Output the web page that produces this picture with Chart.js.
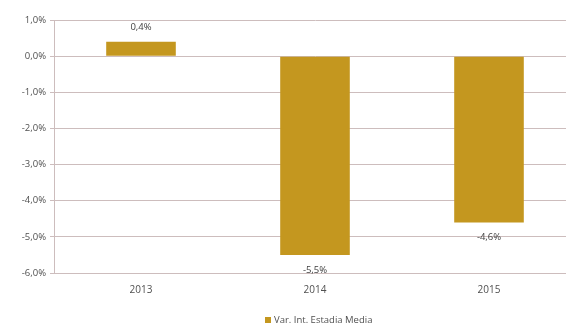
<!DOCTYPE html>
<html>
<head>
<meta charset="utf-8">
<script src="https://cdn.jsdelivr.net/npm/chart.js@4.4.1/dist/chart.umd.min.js"></script>
<style>
  html, body { margin: 0; padding: 0; background: #ffffff; overflow: hidden; }
  #wrap { width: 566px; height: 328px; overflow: hidden; position: relative; }
  canvas { display: block; }
</style>
</head>
<body>
<div id="wrap"><canvas id="chart" width="578" height="328"></canvas></div>
<script>
// Annual variation of average stay
const years = ['2013', '2014', '2015'];
const variation = [0.4, -5.5, -4.6];
const seriesName = 'Var. Int. Estadia Media';
const yTicks = [1, 0, -1, -2, -3, -4, -5, -6];

const barColor = '#C4971F';
const textColor = '#505050';
const gridColor = '#CDBDBD';
const fontFamily = "'Open Sans', 'Liberation Sans', sans-serif";

const fmt = v => v.toFixed(1).replace('.', ',') + '%';

// value labels above positive bars and below negative ones
const valueLabels = {
  id: 'valueLabels',
  afterDatasetsDraw(chart) {
    const ctx = chart.ctx;
    const meta = chart.getDatasetMeta(0);
    const data = chart.data.datasets[0].data;
    ctx.save();
    ctx.font = '9.5px ' + fontFamily;
    ctx.fillStyle = '#404040';
    ctx.textAlign = 'center';
    ctx.textBaseline = 'middle';
    meta.data.forEach((bar, i) => {
      const v = data[i];
      const y = v >= 0 ? bar.y - 14 : bar.y + 15;
      ctx.fillText(fmt(v), bar.x, y);
    });
    ctx.restore();
  }
};

// legend drawn under the axis
const bottomLegend = {
  id: 'bottomLegend',
  afterDraw(chart) {
    const ctx = chart.ctx;
    const ds = chart.data.datasets[0];
    ctx.save();
    ctx.font = '9.5px ' + fontFamily;
    const box = 6, gap = 3;
    const x0 = 265;
    const y = 320;
    ctx.fillStyle = ds.backgroundColor;
    ctx.fillRect(x0, y - box / 2, box, box);
    ctx.fillStyle = textColor;
    ctx.textBaseline = 'middle';
    ctx.textAlign = 'left';
    ctx.fillText(ds.label, x0 + box + gap, y);
    ctx.restore();
  }
};

new Chart(document.getElementById('chart'), {
  type: 'bar',
  data: {
    labels: years,
    datasets: [{
      label: seriesName,
      data: variation,
      backgroundColor: barColor,
      borderWidth: 0,
      barPercentage: 0.8,
      categoryPercentage: 0.5
    }]
  },
  options: {
    responsive: false,
    animation: false,
    devicePixelRatio: 1,
    layout: { padding: { top: 20, bottom: 21, left: 0, right: 2 } },
    plugins: {
      legend: { display: false },
      tooltip: { enabled: false }
    },
    scales: {
      x: {
        grid: { display: false, drawTicks: false },
        border: { display: false },
        ticks: {
          color: textColor,
          font: { family: fontFamily, size: 10 },
          padding: 11
        }
      },
      y: {
        min: -6,
        max: 1,
        afterBuildTicks(axis) {
          axis.ticks = yTicks.map(v => ({ value: v }));
        },
        afterFit(axis) { axis.width = 54; },
        grid: { color: gridColor, lineWidth: 1, drawTicks: true, tickLength: 4 },
        border: { display: true, color: gridColor, width: 1 },
        ticks: {
          color: textColor,
          font: { family: fontFamily, size: 9.5 },
          padding: 4,
          callback: v => fmt(v)
        }
      }
    }
  },
  plugins: [valueLabels, bottomLegend]
});
</script>
</body>
</html>
